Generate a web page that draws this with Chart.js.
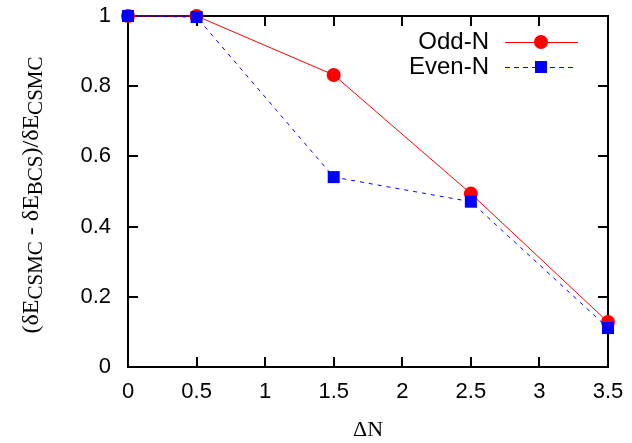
<!DOCTYPE html>
<html>
<head>
<meta charset="utf-8">
<script src="https://cdn.jsdelivr.net/npm/chart.js@4"></script>
<style>
  html, body { margin: 0; padding: 0; background: #fff; }
  #wrap { width: 632px; height: 443px; }
</style>
</head>
<body>
<div id="wrap"><canvas id="chart"></canvas></div>
<script>
// data
const deltaN = [0, 0.5, 1.5, 2.5, 3.5];
const oddN = [1.0, 1.0, 0.832, 0.494, 0.128];
const evenN = [1.0, 0.997, 0.541, 0.471, 0.111];
const seriesLabels = ['Odd-N', 'Even-N'];
const xTitle = '\u0394N';
// y title pieces: [text, isSubscript]
const yTitleParts = [['(\u03b4E', false], ['CSMC', true], [' - \u03b4E', false], ['BCS', true], [')/\u03b4E', false], ['CSMC', true]];

const toPoints = (xs, ys) => xs.map((x, i) => ({ x: x, y: ys[i] }));

// frame with inward ticks on all four sides (gnuplot look)
const framePlugin = {
    id: 'frame',
    beforeDatasetsDraw(chart) {
        const { ctx, chartArea: a, scales } = chart;
        const len = 10;
        ctx.save();
        ctx.strokeStyle = '#000';
        ctx.lineWidth = 2;
        ctx.beginPath();
        scales.x.ticks.forEach(t => {
            const px = Math.round(scales.x.getPixelForValue(t.value));
            ctx.moveTo(px, a.bottom); ctx.lineTo(px, a.bottom - len);
            ctx.moveTo(px, a.top); ctx.lineTo(px, a.top + len);
        });
        scales.y.ticks.forEach(t => {
            const py = Math.round(scales.y.getPixelForValue(t.value));
            ctx.moveTo(a.left, py); ctx.lineTo(a.left + len, py);
            ctx.moveTo(a.right, py); ctx.lineTo(a.right - len, py);
        });
        ctx.stroke();
        ctx.strokeRect(a.left, a.top, a.right - a.left, a.bottom - a.top);
        ctx.restore();
    }
};

// rotated y title with subscripts
const yTitlePlugin = {
    id: 'yTitle',
    afterDraw(chart) {
        const ctx = chart.ctx;
        const mainFont = '24px "Liberation Serif"';
        const subFont = '21px "Liberation Serif"';
        ctx.save();
        let total = 0;
        yTitleParts.forEach(p => {
            ctx.font = p[1] ? subFont : mainFont;
            total += ctx.measureText(p[0]).width;
        });
        ctx.translate(38, 195);
        ctx.rotate(-Math.PI / 2);
        ctx.fillStyle = '#000';
        ctx.textBaseline = 'alphabetic';
        let x = -total / 2;
        yTitleParts.forEach(p => {
            ctx.font = p[1] ? subFont : mainFont;
            ctx.fillText(p[0], x, p[1] ? 4 : 0);
            x += ctx.measureText(p[0]).width;
        });
        ctx.restore();
    }
};

// legend drawn like gnuplot's key
const keyPlugin = {
    id: 'key',
    afterDatasetsDraw(chart) {
        const ctx = chart.ctx;
        const rows = [
            { label: seriesLabels[0], y: 42, color: 'rgb(255,0,0)', dash: [], shape: 'circle', x2: 578 },
            { label: seriesLabels[1], y: 67, color: 'rgb(0,0,255)', dash: [5, 4], shape: 'rect', x2: 573 }
        ];
        ctx.save();
        rows.forEach(r => {
            ctx.font = '24px "Liberation Sans"';
            ctx.fillStyle = '#000';
            ctx.textAlign = 'right';
            ctx.textBaseline = 'middle';
            ctx.fillText(r.label, 489, r.y);
            ctx.strokeStyle = r.color;
            ctx.lineWidth = 1;
            ctx.setLineDash(r.dash);
            ctx.beginPath();
            ctx.moveTo(505, r.y + 0.5);
            ctx.lineTo(r.x2, r.y + 0.5);
            ctx.stroke();
            ctx.setLineDash([]);
            ctx.fillStyle = r.color;
            if (r.shape === 'circle') {
                ctx.beginPath();
                ctx.arc(541, r.y, 7, 0, Math.PI * 2);
                ctx.fill();
            } else {
                ctx.fillRect(535, r.y - 6, 12, 12);
            }
        });
        ctx.restore();
    }
};

const ctx = document.getElementById('chart').getContext('2d');

new Chart(ctx, {
    type: 'line',
    data: {
        datasets: [
            {
                label: seriesLabels[0],
                data: toPoints(deltaN, oddN),
                borderColor: 'rgb(255,0,0)',
                backgroundColor: 'rgb(255,0,0)',
                borderWidth: 1,
                pointStyle: 'circle',
                pointRadius: 7,
                pointBorderWidth: 0,
                tension: 0,
                clip: false,
                order: 1
            },
            {
                label: seriesLabels[1],
                data: toPoints(deltaN, evenN),
                borderColor: 'rgb(0,0,255)',
                backgroundColor: 'rgb(0,0,255)',
                borderWidth: 1,
                borderDash: [4, 5],
                pointStyle: 'rect',
                pointRadius: 8.5,
                pointBorderWidth: 0,
                tension: 0,
                clip: false,
                order: 0
            }
        ]
    },
    options: {
        responsive: true,
        maintainAspectRatio: false,
        animation: false,
        events: [],
        layout: { padding: { top: 16, right: 24, left: 0, bottom: 0 } },
        scales: {
            x: {
                type: 'linear',
                min: 0,
                max: 3.5,
                afterFit: s => { s.height = 76; s.paddingLeft = 0; s.paddingRight = 0; },
                grid: { display: false, drawTicks: false },
                border: { display: false },
                ticks: {
                    stepSize: 0.5,
                    padding: 12,
                    color: '#000',
                    maxRotation: 0,
                    font: { family: 'Liberation Sans', size: 22 },
                    callback: v => String(v)
                },
                title: {
                    display: true,
                    text: xTitle,
                    color: '#000',
                    padding: { top: 0, bottom: 0 },
                    font: { family: 'Liberation Serif', size: 22 }
                }
            },
            y: {
                min: 0,
                max: 1,
                afterFit: s => { s.width = 128; s.paddingTop = 0; s.paddingBottom = 0; },
                grid: { display: false, drawTicks: false },
                border: { display: false },
                ticks: {
                    stepSize: 0.2,
                    padding: 17,
                    color: '#000',
                    font: { family: 'Liberation Sans', size: 22 },
                    callback: v => String(Math.round(v * 10) / 10)
                }
            }
        },
        plugins: {
            legend: { display: false },
            tooltip: { enabled: false }
        }
    },
    plugins: [framePlugin, yTitlePlugin, keyPlugin]
});
</script>
</body>
</html>
